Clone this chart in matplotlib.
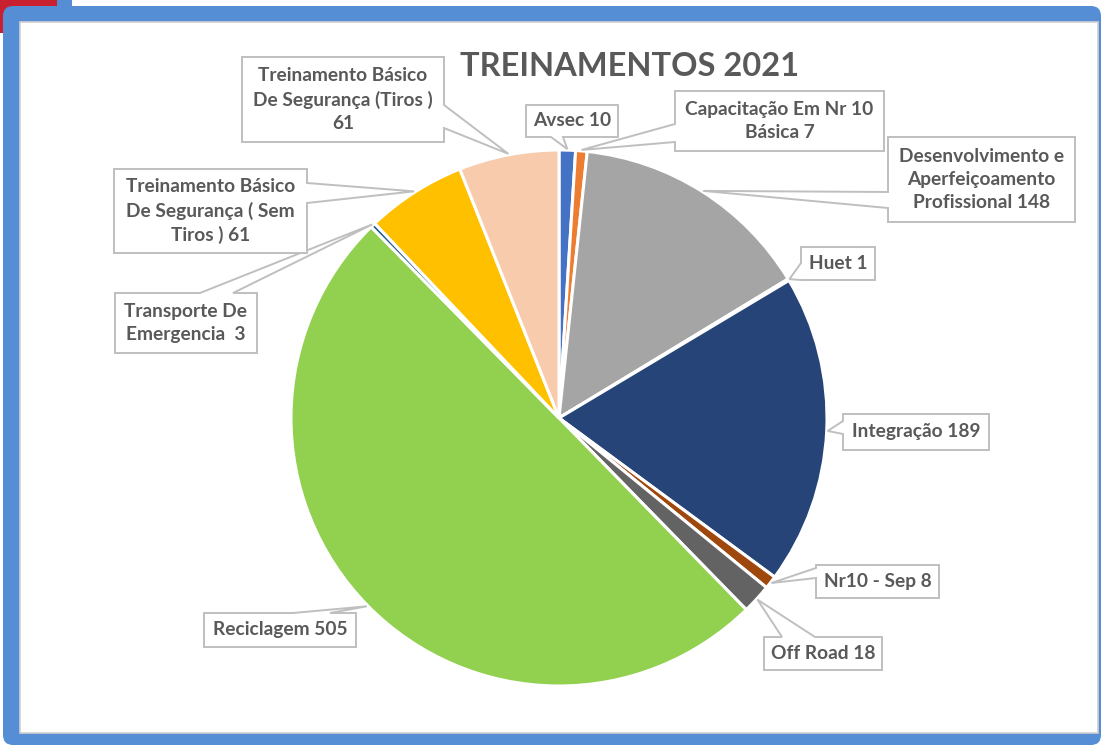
import matplotlib
matplotlib.use("Agg")
import numpy as np
import matplotlib.pyplot as plt
from matplotlib.patches import Polygon, Rectangle, FancyBboxPatch

W, H = 1101, 745

# data (Excel pie, clockwise from 12 o'clock)
categories = ["Avsec", "Capacitação Em Nr 10\nBásica",
              "Desenvolvimento e\nAperfeiçoamento\nProfissional", "Huet",
              "Integração", "Nr10 - Sep", "Off Road", "Reciclagem",
              "Transporte De\nEmergencia ",
              "Treinamento Básico\nDe Segurança ( Sem\nTiros )",
              "Treinamento Básico\nDe Segurança (Tiros )\n"]
values = [10, 7, 148, 1, 189, 8, 18, 505, 3, 61, 61]
colors = ["#4472C4", "#ED7D31", "#A5A5A5", "#FFC000", "#264478", "#9E480E",
          "#636363", "#92D050", "#255E91", "#FFC000", "#F8CBAD"]
title = "TREINAMENTOS 2021"

# callout boxes, pixel coords (y down): x0, y0, x1, y1, side, notch base
boxes = [
    (526, 105, 618, 137, "bottom", (551, 563)),
    (675, 91, 884, 151, "left", (124, 142)),
    (888, 137, 1075, 222, "left", (192, 208)),
    (801, 247, 875, 280, "left", (263, 280)),
    (843, 414, 989, 450, "left", (421, 434)),
    (816, 565, 939, 598, "left", (568, 578)),
    (764, 637, 882, 670, "top", (782, 815)),
    (204, 613, 356, 647, "top", (293, 330)),
    (115, 293, 257, 353, "top", (200, 233)),
    (114, 169, 307, 253, "right", (183, 203)),
    (242, 57, 444, 142, "right", (105, 128)),
]

txt_col = "#595959"
edge_col = "#BFBFBF"
blue = "#558ED5"
font = "Lato"


def fy(y):
    return H - y


fig = plt.figure(figsize=(W / 100, H / 100), dpi=100)
ax = fig.add_axes([0, 0, 1, 1])

# frame
ax.add_patch(Rectangle((0, fy(33)), 57, 33, fc="#C9202F", ec="none", zorder=0))
ax.add_patch(Rectangle((57, fy(6)), 15, 6, fc=blue, ec="none", zorder=0))
ax.add_patch(FancyBboxPatch((3, 0), W - 3, H - 6, boxstyle="round,pad=0,rounding_size=10",
                            fc=blue, ec="none", zorder=0.5))
ax.add_patch(Rectangle((20, fy(733)), 1078, 711, fc="white", ec="#D0D0D0", lw=1.2, zorder=0.6))

cx, cy, r = 559, fy(418), 268
wedges, _ = ax.pie(values, colors=colors, startangle=90, counterclock=False,
                   center=(cx, cy), radius=r, frame=True,
                   wedgeprops=dict(edgecolor="white", linewidth=2.2))
for w in wedges:
    w.set_zorder(2)

for w, cat, v, b in zip(wedges, categories, values, boxes):
    x0, y0, x1, y1, side, (b0, b1) = b
    mid = np.deg2rad((w.theta1 + w.theta2) / 2)
    tx = cx + (r + 1) * np.cos(mid)
    ty = H - (cy + (r + 1) * np.sin(mid))
    tip = (tx, ty)
    if side == "top":
        pts = [(x0, y0), (b0, y0), tip, (b1, y0), (x1, y0), (x1, y1), (x0, y1)]
    elif side == "right":
        pts = [(x0, y0), (x1, y0), (x1, b0), tip, (x1, b1), (x1, y1), (x0, y1)]
    elif side == "bottom":
        pts = [(x0, y0), (x1, y0), (x1, y1), (b1, y1), tip, (b0, y1), (x0, y1)]
    else:
        pts = [(x0, y0), (x1, y0), (x1, y1), (x0, y1), (x0, b1), tip, (x0, b0)]
    pts = [(px, fy(pyy)) for px, pyy in pts]
    ax.add_patch(Polygon(pts, closed=True, fc="white", ec=edge_col, lw=1.4,
                         joinstyle="miter", zorder=3))
    sep = "" if cat.endswith("\n") else " "
    ax.text((x0 + x1) / 2, fy((y0 + y1) / 2), f"{cat}{sep}{v}", ha="center", va="center",
            ma="center", fontsize=13.8, fontweight="bold", family=font,
            color=txt_col, linespacing=1.45, zorder=4)

ax.text(630, fy(66), title, ha="center", va="center", fontsize=23.5, fontweight="bold",
        family=font, color=txt_col, zorder=4)

ax.set_xlim(0, W)
ax.set_ylim(0, H)
ax.set_aspect("auto")
ax.axis("off")

fig.savefig("out.png", dpi=100)
